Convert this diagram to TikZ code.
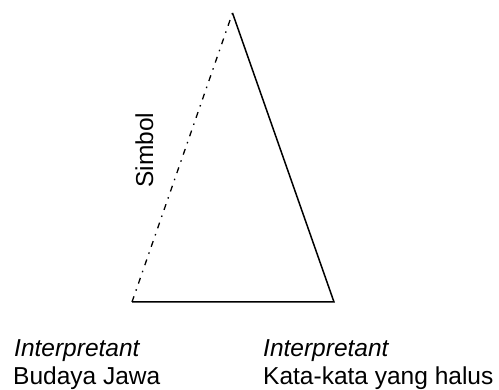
\documentclass[tikz,border=0pt]{standalone}
\usepackage{fontspec}
\setmainfont{Liberation Sans}
\begin{document}
\begin{tikzpicture}[x=1pt,y=-1pt,
  lbl/.style={inner sep=0pt,anchor=base west,font=\fontsize{24.5}{28}\selectfont},
  edge/.style={line width=1.5pt,line cap=butt},
  dashdot/.style={line width=1.3pt,dash pattern=on 6pt off 6pt on 1.5pt off 6pt}]
\useasboundingbox (0,0) rectangle (499,390);
\coordinate (T) at (232.5,13);
\coordinate (BL) at (132,302);
\coordinate (BR) at (334,302);
\draw[dashdot] (BL) -- (T);
\draw[edge] (T) -- (BR) -- (BL);
\node[lbl,rotate=90,anchor=base] (simbol) at (153,150) {Simbol};
\node[lbl] (i1) at (14,357) {\itshape Interpretant};
\node[lbl] (b1) at (13,384.5) {Budaya Jawa};
\node[lbl] (i2) at (263,357) {\itshape Interpretant};
\node[lbl] (b2) at (263,384.5) {Kata-kata yang halus};
\end{tikzpicture}
\end{document}
